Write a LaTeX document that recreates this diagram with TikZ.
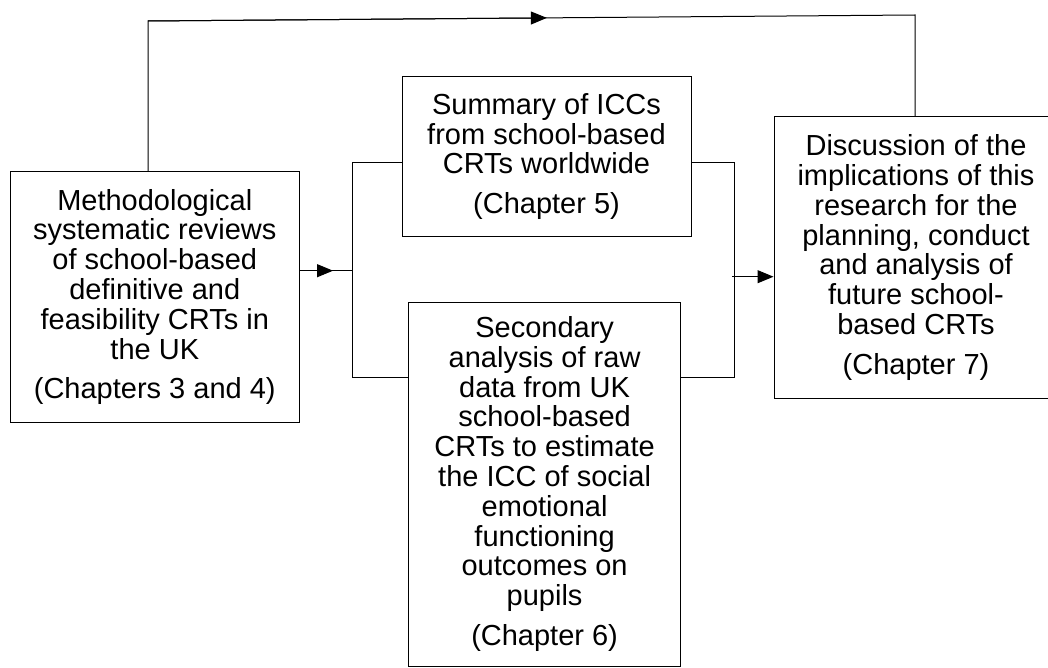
\documentclass[tikz,border=0pt]{standalone}
\usepackage{fontspec}
\setmainfont{Liberation Sans}
\usetikzlibrary{arrows.meta, calc}

\begin{document}
\begin{tikzpicture}[x=1pt, y=-1pt, line width=1pt,
    chapbox/.style={rectangle, draw, inner sep=0pt, align=center,
      font=\fontsize{29}{29.8}\selectfont},
    tip/.style={-{Triangle[length=16pt, width=13pt]}}]
    \useasboundingbox (0,0) rectangle (1048,668);

    % the four boxes
    \node[chapbox, minimum width=289.5pt, minimum height=250pt] (meth) at (154.8, 297)
      {Methodological\\ systematic reviews\\ of school-based\\ definitive and\\ feasibility CRTs in\\ the UK\\[10pt] (Chapters 3 and 4)};
    \node[chapbox, minimum width=289pt, minimum height=159pt] (summ) at (546.5, 156.5)
      {Summary of ICCs\\ from school-based\\ CRTs worldwide\\[10pt] (Chapter 5)};
    \node[chapbox, minimum width=272pt, minimum height=364pt] (secd) at (544.6, 484)
      {Secondary\\ analysis of raw\\ data from UK\\ school-based\\ CRTs to estimate\\ the ICC of social\\ emotional\\ functioning\\ outcomes on\\ pupils\\[10pt] (Chapter 6)};
    \node[chapbox, minimum width=284pt, minimum height=281pt] (disc) at (916, 257.5)
      {Discussion of the\\ implications of this\\ research for the\\ planning, conduct\\ and analysis of\\ future school-\\ based CRTs\\[10pt] (Chapter 7)};

    % corners of the connectors
    \coordinate (tl) at (148, 21);
    \coordinate (tr) at (915, 15);
    \coordinate (ltop) at (352, 162.3);
    \coordinate (lbot) at (352, 377.7);
    \coordinate (lmid) at (352, 270.7);
    \coordinate (rtop) at (734.5, 162.3);
    \coordinate (rbot) at (734.5, 377.7);
    \coordinate (rmid) at (732, 276.7);

    % loop over the top
    \draw (meth.north -| tl) -- (tl) -- (tr) -- (disc.north -| tr);
    \draw[tip] (tl) -- ($(tl)!0.52!(tr)$);

    % left branch
    \draw[tip] (meth.east |- lmid) -- ++(33, 0);
    \draw (meth.east |- lmid) -- (lmid);
    \draw (summ.west |- ltop) -- (ltop) -- (lbot) -- (secd.west |- lbot);

    % right branch
    \draw (summ.east |- rtop) -- (rtop) -- (rbot) -- (secd.east |- rbot);
    \draw[tip] (rmid) -- (disc.west |- rmid);

  \end{tikzpicture}
\end{document}
